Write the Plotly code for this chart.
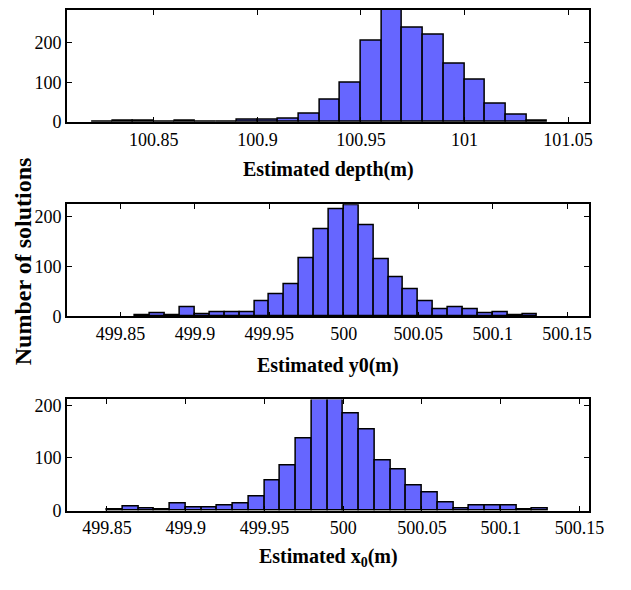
import plotly.graph_objects as go

# ---- data (bin left edges, bin width 0.01, counts) ----
depth_bins = [100.82, 100.83, 100.84, 100.85, 100.86, 100.87, 100.88, 100.89, 100.90,
              100.91, 100.92, 100.93, 100.94, 100.95, 100.96, 100.97, 100.98, 100.99,
              101.00, 101.01, 101.02, 101.03]
depth_counts = [1, 2, 2, 1, 2, 0, 0, 5, 5, 8, 22, 57, 99, 203, 282, 236, 220, 146,
                105, 46, 18, 3]

y0_bins = [499.86, 499.87, 499.88, 499.89, 499.90, 499.91, 499.92, 499.93, 499.94,
           499.95, 499.96, 499.97, 499.98, 499.99, 500.00, 500.01, 500.02, 500.03,
           500.04, 500.05, 500.06, 500.07, 500.08, 500.09, 500.10, 500.11, 500.12]
y0_counts = [3, 6, 2, 19, 5, 8, 8, 8, 31, 44, 64, 117, 175, 214, 224, 182, 115, 78,
             55, 30, 14, 18, 14, 6, 9, 2, 5]

x0_bins = [499.85, 499.86, 499.87, 499.88, 499.89, 499.90, 499.91, 499.92, 499.93,
           499.94, 499.95, 499.96, 499.97, 499.98, 499.99, 500.00, 500.01, 500.02,
           500.03, 500.04, 500.05, 500.06, 500.07, 500.08, 500.09, 500.10, 500.11,
           500.12]
x0_counts = [2, 8, 5, 2, 14, 7, 7, 10, 13, 28, 58, 85, 137, 211, 211, 184, 155, 96,
             78, 48, 35, 16, 4, 10, 10, 10, 2, 5]

bin_width = 0.01

depth_ticks = [100.85, 100.9, 100.95, 101, 101.05]
pos_ticks = [499.85, 499.9, 499.95, 500, 500.05, 500.1, 500.15]
y_ticks = [0, 100, 200]

titles = ["Estimated depth(m)", "Estimated y0(m)", "Estimated x<sub>0</sub>(m)"]
y_title = "Number of solutions"

# ---- layout geometry ----
W, H = 631, 590
FONT = "Liberation Serif"
BAR_COLOR = "rgb(102,102,255)"

panels = [
    dict(bins=depth_bins, counts=depth_counts, xr=[100.808, 101.0602], yr=[0, 282],
         ticks=depth_ticks, top=6, bottom=121, title_y=170),
    dict(bins=y0_bins, counts=y0_counts, xr=[499.814, 500.1648], yr=[0, 225],
         ticks=pos_ticks, top=205, bottom=320, title_y=370),
    dict(bins=x0_bins, counts=x0_counts, xr=[499.8246, 500.1562], yr=[0, 211],
         ticks=pos_ticks, top=405, bottom=519, title_y=567),
]

fig = go.Figure()
x_dom = [68.5 / W, 603.5 / W]
layout = dict(
    width=W, height=H, margin=dict(l=0, r=0, t=0, b=0),
    paper_bgcolor="white", plot_bgcolor="white", showlegend=False,
    font=dict(family=FONT, size=18, color="black"),
    bargap=0,
)
annotations = []
for i, p in enumerate(panels):
    n = "" if i == 0 else str(i + 1)
    fig.add_trace(go.Bar(
        x=p["bins"], y=p["counts"], width=bin_width, offset=0,
        marker=dict(color=BAR_COLOR, line=dict(color="black", width=1.5)),
        xaxis="x" + n, yaxis="y" + n,
    ))
    y_dom = [(H - p["bottom"]) / H, (H - p["top"]) / H]
    layout["xaxis" + n] = dict(
        domain=x_dom, range=p["xr"], anchor="y" + n, tickvals=p["ticks"],
        ticktext=[f"{t:g}" for t in p["ticks"]],
        ticks="inside", ticklen=5, tickwidth=1.2, tickcolor="black",
        showline=True, linecolor="black", linewidth=1.6, mirror="allticks",
        showgrid=False, zeroline=False, tickfont=dict(family=FONT, size=18),
    )
    layout["yaxis" + n] = dict(
        domain=y_dom, range=p["yr"], anchor="x" + n, tickvals=y_ticks,
        ticks="inside", ticklen=5, tickwidth=1.2, tickcolor="black",
        showline=True, linecolor="black", linewidth=1.6, mirror="allticks",
        showgrid=False, zeroline=False, tickfont=dict(family=FONT, size=18),
    )
    annotations.append(dict(
        text="<b>" + titles[i] + "</b>", xref="paper", yref="paper",
        x=(x_dom[0] + x_dom[1]) / 2, y=(H - p["title_y"]) / H,
        xanchor="center", yanchor="middle", showarrow=False,
        font=dict(family=FONT, size=20, color="black"),
    ))

annotations.append(dict(
    text="<b>" + y_title + "</b>", xref="paper", yref="paper",
    x=23 / W, y=(H - 263) / H, xanchor="center", yanchor="middle",
    showarrow=False, textangle=-90,
    font=dict(family=FONT, size=24, color="black"),
))
layout["annotations"] = annotations
fig.update_layout(**layout)
fig.write_html("out.html")
